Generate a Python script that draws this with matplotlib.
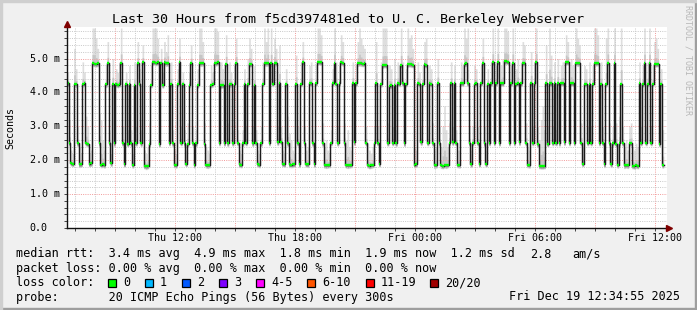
import numpy as np
import matplotlib
matplotlib.use("Agg")
import matplotlib.pyplot as plt
from matplotlib import transforms
from matplotlib.patches import Rectangle

W, H = 697, 310
BACK = "#f0f0f0"
FONT = "DejaVu Sans Mono"

# ---- data (ms), 5 minute steps starting Thu 06:35 ----
T0 = 6 + 35 / 60          # hours since Thu 00:00
STEP = 5 / 60

median_a = [4.27, 2.52, 1.92, 1.90, 4.26, 4.24, 2.50, 1.88, 1.89, 4.25, 4.27, 2.51, 2.49, 1.90, 1.91,
            4.86, 4.85, 4.84, 4.86, 2.50, 1.87, 1.88, 1.86, 4.24, 4.88, 2.52, 1.91, 4.26, 2.50, 4.25,
            4.23, 4.25, 4.88, 2.51, 1.89, 4.26, 2.49, 4.25, 2.50, 1.86, 4.22, 2.51, 4.87, 4.26, 2.50,
            4.90, 1.84, 1.82, 1.84, 2.48, 4.23, 4.89, 4.90, 4.88, 4.89, 2.48, 4.88, 4.22, 4.89, 4.86]
median_b = [4.87, 2.52, 4.25, 2.50, 1.87, 1.86, 4.26, 4.89, 2.52, 4.24, 2.50, 1.90, 2.49, 4.23, 4.88,
            2.51, 1.86, 2.50, 4.22, 4.87, 4.86, 4.87, 2.49, 1.86, 1.85, 1.87, 4.23, 4.25, 4.88, 4.87,
            4.89, 2.52, 4.21, 4.22, 2.51, 4.85, 2.50, 4.24, 4.25, 2.51, 4.24, 4.88, 2.52, 1.88, 1.87,
            2.50, 4.26, 2.52, 4.25, 4.84, 4.85, 2.50, 4.23, 2.52, 1.89, 1.87, 2.50, 4.26, 4.87, 4.86]
median_c = [4.87, 2.52, 4.86, 4.26, 4.88, 4.87, 2.53, 4.28, 2.55, 1.90, 1.89, 4.25, 2.50, 1.88, 1.87,
            1.88, 1.89, 4.25, 2.51, 1.88, 4.26, 4.89, 2.51, 1.89, 1.88, 4.28, 4.27, 2.50, 1.88, 4.28,
            4.90, 4.90, 4.89, 2.50, 1.86, 1.85, 1.86, 1.87, 2.52, 4.28, 4.87, 4.26, 2.51, 4.28, 4.89,
            4.87, 2.51, 1.86, 1.85, 1.86, 1.87, 4.28, 2.53, 4.27, 4.86, 4.87, 4.86, 4.85, 4.86, 2.52]
median_d = [1.86, 1.84, 1.85, 1.87, 2.50, 4.27, 2.52, 1.90, 4.25, 4.80, 4.82, 4.81, 2.51, 4.20, 4.21,
            2.52, 4.22, 2.50, 4.27, 4.26, 4.82, 4.27, 2.50, 4.26, 4.83, 4.84, 4.83, 4.82, 1.87, 1.88,
            4.28, 4.25, 2.53, 4.26, 4.83, 4.82, 2.52, 4.27, 4.26, 2.51, 1.85, 1.86, 4.27, 2.51, 1.85,
            1.84, 1.86, 1.85, 1.87, 2.52, 4.27, 2.53, 4.27, 2.52, 1.87, 1.86, 4.28, 4.27, 4.85, 4.86]
median_e = [4.27, 2.52, 1.88, 2.52, 4.26, 4.27, 2.52, 1.89, 4.28, 4.88, 2.50, 1.89, 4.26, 2.52, 4.27,
            4.89, 2.52, 4.28, 4.90, 2.51, 4.28, 4.27, 4.92, 4.92, 4.91, 2.52, 4.27, 4.88, 2.52, 4.26,
            4.27, 2.53, 4.27, 4.87, 4.88, 2.51, 1.87, 1.86, 4.27, 2.52, 4.27, 4.90, 2.47, 1.84, 1.83,
            1.83, 1.84, 4.27, 2.49, 4.28, 4.27, 2.52, 4.27, 2.52, 4.29, 2.51, 4.29, 4.28, 2.53, 4.90]
median_f = [4.90, 2.52, 4.28, 4.27, 2.52, 4.88, 4.86, 4.88, 2.52, 1.90, 4.26, 4.25, 2.52, 4.26, 2.52,
            4.25, 4.88, 4.87, 4.88, 2.52, 4.26, 2.52, 1.88, 4.25, 4.88, 2.51, 1.88, 2.50, 4.87, 2.48,
            1.86, 2.50, 4.26, 2.51, 1.85, 1.86, 1.85, 2.52, 2.51, 1.84, 1.83, 1.85, 1.84, 4.27, 2.52,
            4.25, 4.87, 2.52, 4.26, 4.87, 2.52, 4.26, 4.85, 4.84, 4.85, 2.49, 4.26, 1.86]

# highest ping of each step (top of the smoke)
smoke_a = [4.6, 3.2, 2.3, 2.2, 5.3, 4.7, 3.0, 2.4, 2.2, 4.9, 4.6, 3.3, 3.0, 2.2, 2.3, 5.9, 5.9, 5.6, 5.3, 3.4,
           3.2, 2.6, 2.3, 4.8, 5.5, 2.9, 2.2, 5.0, 3.1, 4.7, 4.6, 4.9, 5.9, 3.0, 2.3, 4.6, 2.9, 4.8, 2.9, 2.2,
           4.9, 3.0, 5.5, 4.7, 2.9, 5.4, 2.3, 2.2, 2.4, 3.1, 4.8, 5.9, 5.9, 5.9, 5.6, 3.1, 5.3, 4.6, 5.5, 5.2]
smoke_b = [5.7, 3.0, 4.9, 2.9, 2.3, 2.2, 4.7, 5.6, 3.0, 4.6, 2.9, 2.3, 3.1, 4.6, 5.4, 3.0, 2.3, 2.9, 4.7, 5.9,
           5.9, 5.5, 3.1, 2.4, 2.3, 2.2, 4.8, 4.6, 5.9, 5.9, 5.8, 3.0, 4.9, 4.7, 3.0, 5.7, 3.1, 4.9, 4.6, 2.9,
           4.8, 5.6, 2.9, 2.3, 2.2, 2.9, 4.7, 3.0, 5.0, 5.6, 5.3, 3.0, 4.8, 2.9, 2.3, 2.2, 3.0, 4.9, 5.9, 5.5]
smoke_c = [5.9, 3.2, 5.9, 4.8, 5.6, 5.3, 3.0, 5.4, 3.0, 2.3, 2.2, 4.7, 3.3, 2.8, 2.6, 2.3, 2.2, 5.1, 3.0, 2.3,
           4.9, 5.5, 3.0, 2.3, 2.4, 4.8, 4.9, 2.9, 2.3, 4.8, 5.9, 5.9, 5.7, 3.1, 2.4, 2.6, 2.3, 2.2, 2.9, 4.7,
           5.9, 4.9, 3.0, 4.8, 5.7, 5.5, 3.1, 2.6, 2.9, 2.4, 2.3, 4.9, 3.0, 4.8, 5.5, 5.9, 5.6, 5.4, 5.3, 3.0]
smoke_d = [2.5, 2.3, 2.2, 2.4, 3.0, 5.5, 3.0, 2.3, 4.9, 5.9, 5.9, 5.9, 3.1, 4.8, 4.7, 3.0, 5.0, 2.9, 4.9, 4.8,
           5.9, 4.9, 3.0, 4.7, 5.9, 5.6, 5.7, 5.3, 2.4, 2.3, 4.9, 4.6, 3.0, 4.8, 5.5, 5.6, 3.0, 4.8, 4.7, 3.1,
           2.3, 2.4, 5.0, 3.0, 2.4, 3.0, 3.6, 2.9, 2.4, 3.1, 4.9, 3.0, 4.8, 2.9, 2.3, 2.3, 4.9, 4.8, 5.9, 5.6]
smoke_e = [5.9, 3.0, 2.3, 3.0, 4.8, 4.7, 3.0, 2.3, 4.8, 5.6, 3.0, 2.3, 4.7, 2.9, 4.9, 5.9, 3.0, 4.8, 5.9, 3.0,
           4.8, 5.0, 5.9, 5.9, 5.8, 3.1, 4.8, 5.9, 3.0, 4.7, 5.0, 3.0, 4.9, 5.5, 5.4, 3.1, 2.4, 2.3, 5.2, 3.0,
           4.9, 5.9, 3.0, 2.6, 3.2, 3.6, 2.9, 5.4, 3.0, 5.9, 5.1, 3.0, 4.9, 2.9, 5.0, 3.0, 4.8, 4.9, 3.0, 5.7]
smoke_f = [5.5, 3.0, 5.0, 4.8, 3.0, 5.9, 5.6, 5.4, 3.1, 2.4, 4.8, 4.7, 3.0, 4.9, 3.0, 4.8, 5.9, 5.9, 5.7, 3.2,
           4.9, 3.0, 2.3, 5.6, 5.9, 3.1, 2.4, 3.0, 5.9, 3.1, 2.5, 3.3, 5.9, 3.0, 2.4, 2.6, 2.3, 3.0, 3.1, 2.4,
           2.3, 2.5, 2.4, 4.9, 3.0, 4.8, 5.9, 3.0, 4.9, 5.9, 3.0, 4.8, 5.5, 5.6, 5.3, 3.0, 4.7, 2.9]

xtick_hours = [12, 18, 24, 30, 36]
xtick_labels = ["Thu 12:00", "Thu 18:00", "Fri 00:00", "Fri 06:00", "Fri 12:00"]
ytick_values = [0, 1, 2, 3, 4, 5]
ytick_labels = ["0.0", "1.0 m", "2.0 m", "3.0 m", "4.0 m", "5.0 m"]

loss_labels = ["0", "1", "2", "3", "4-5", "6-10", "11-19", "20/20"]
loss_colors = ["#00ff00", "#00b8ff", "#0059ff", "#7e00ff", "#ff00ff", "#ff5500", "#ff0000", "#a10000"]

median = median_a + median_b + median_c + median_d + median_e + median_f
smoke_top = smoke_a + smoke_b + smoke_c + smoke_d + smoke_e + smoke_f


def fx(x):
    return x / W


def fy(y):
    return 1 - y / H


fig = plt.figure(figsize=(W / 100, H / 100), dpi=100, facecolor=BACK)

# 3d frame like rrdtool
fig.patches.append(Rectangle((0, 0), 1, 2 / H, transform=fig.transFigure, color="#9e9e9e", zorder=0))
fig.patches.append(Rectangle((1 - 2 / W, 0), 2 / W, 1, transform=fig.transFigure, color="#9e9e9e", zorder=0))
fig.patches.append(Rectangle((0, 1 - 2 / H), 1, 2 / H, transform=fig.transFigure, color="#cfcfcf", zorder=0))
fig.patches.append(Rectangle((0, 0), 2 / W, 1, transform=fig.transFigure, color="#cfcfcf", zorder=0))

ax = fig.add_axes([fx(67), fy(228), 600 / W, 201 / H])
ax.set_facecolor("white")
ax.set_xlim(T0, T0 + 30)
ax.set_ylim(0, 201 / 33.9)

n = min(len(median), len(smoke_top))
med = np.array(median[:n])
top = np.array(smoke_top[:n])
xe = T0 + np.arange(n + 1) * STEP


def ext(a):
    return np.append(a, a[-1])


# smoke
ax.fill_between(xe, ext(med - 0.1), ext(top), step="post", color="#dedede", lw=0, zorder=1)
ax.fill_between(xe, ext(med - 0.08), ext(med + (top - med) * 0.25), step="post", color="#c6c6c6", lw=0, zorder=1)
ax.fill_between(xe, ext(med - 0.07), ext(med + 0.03), step="post", color="#a0a0a0", lw=0, zorder=1)

# median
ax.step(xe, ext(med), where="post", color="#1c1c1c", lw=1.05, zorder=3)
ax.hlines(med, xe[:-1], xe[1:], color="#00ff00", lw=1.7, zorder=4)

# grid
ax.set_xticks(np.arange(9, 37, 3))
ax.set_xticks(np.arange(7, 37, 1), minor=True)
ax.set_yticks(ytick_values)
ax.set_yticks(np.arange(0, 6, 0.2), minor=True)
ax.set_xticklabels([""] * len(ax.get_xticks()))
ax.set_yticklabels([])
ax.grid(which="minor", color="#c8c8c8", ls=(0, (1, 1.3)), lw=0.7, zorder=2)
ax.grid(which="major", color="#f29a9a", ls=(0, (1, 1.3)), lw=0.7, zorder=2)
ax.tick_params(which="both", direction="out", length=2, width=0.7, color="#444444")

for s in ["top", "right"]:
    ax.spines[s].set_visible(False)
for s in ["left", "bottom"]:
    ax.spines[s].set_color("#111111")
    ax.spines[s].set_linewidth(1.0)
    ax.spines[s].set_zorder(5)

# axis arrows
ax.plot([T0 + 30 + 0.1], [0], marker=">", ms=4, color="#7f0000", clip_on=False, zorder=6)
ax.plot([T0], [201 / 33.9 + 0.08], marker="^", ms=4, color="#7f0000", clip_on=False, zorder=6)

# tick labels
xt = transforms.blended_transform_factory(ax.transData, fig.transFigure)
for h, lab in zip(xtick_hours, xtick_labels):
    fig.text(h, fy(238), lab, transform=xt, ha="center", va="center", family=FONT, fontsize=7.2)
yt = transforms.blended_transform_factory(fig.transFigure, ax.transData)
for v, lab in zip(ytick_values, ytick_labels):
    fig.text(fx(29.5), v, lab, transform=yt, ha="left", va="center", family=FONT, fontsize=7.2)

fig.text(fx(10), fy(128), "Seconds", rotation=90, ha="center", va="center", family=FONT, fontsize=7.2)
fig.text(fx(348), fy(19), "Last 30 Hours from f5cd397481ed to U. C. Berkeley Webserver",
         ha="center", va="center", family=FONT, fontsize=9.6)
fig.text(fx(688), fy(60), "RRDTOOL / TOBI OETIKER", rotation=270, ha="center", va="center",
         family=FONT, fontsize=6, color="#b8b8b8")

# legend
LF = 8.5
fig.text(fx(16), fy(254), "median rtt:  3.4 ms avg  4.9 ms max  1.8 ms min  1.9 ms now  1.2 ms sd",
         ha="left", va="center", family=FONT, fontsize=LF)
fig.text(fx(530.5), fy(254), "2.8", ha="left", va="center", family=FONT, fontsize=LF)
fig.text(fx(572), fy(254), "am/s", ha="left", va="center", family=FONT, fontsize=LF)
fig.text(fx(16), fy(268.3), "packet loss: 0.00 % avg  0.00 % max  0.00 % min  0.00 % now",
         ha="left", va="center", family=FONT, fontsize=LF)
fig.text(fx(16), fy(282.5), "loss color:", ha="left", va="center", family=FONT, fontsize=LF)
box_x = [108, 145, 182, 219, 256, 307, 366, 430]
for bx, lab, col in zip(box_x, loss_labels, loss_colors):
    fig.patches.append(Rectangle((fx(bx), fy(287)), 8 / W, 8 / H, transform=fig.transFigure,
                                 facecolor=col, edgecolor="black", lw=0.9))
    fig.text(fx(bx + 15), fy(282.5), lab, ha="left", va="center", family=FONT, fontsize=LF)
fig.text(fx(16), fy(297), "probe:       20 ICMP Echo Pings (56 Bytes) every 300s",
         ha="left", va="center", family=FONT, fontsize=LF)
fig.text(fx(680), fy(297), "Fri Dec 19 12:34:55 2025", ha="right", va="center", family=FONT, fontsize=LF)

fig.savefig("out.png", dpi=100, facecolor=BACK)
